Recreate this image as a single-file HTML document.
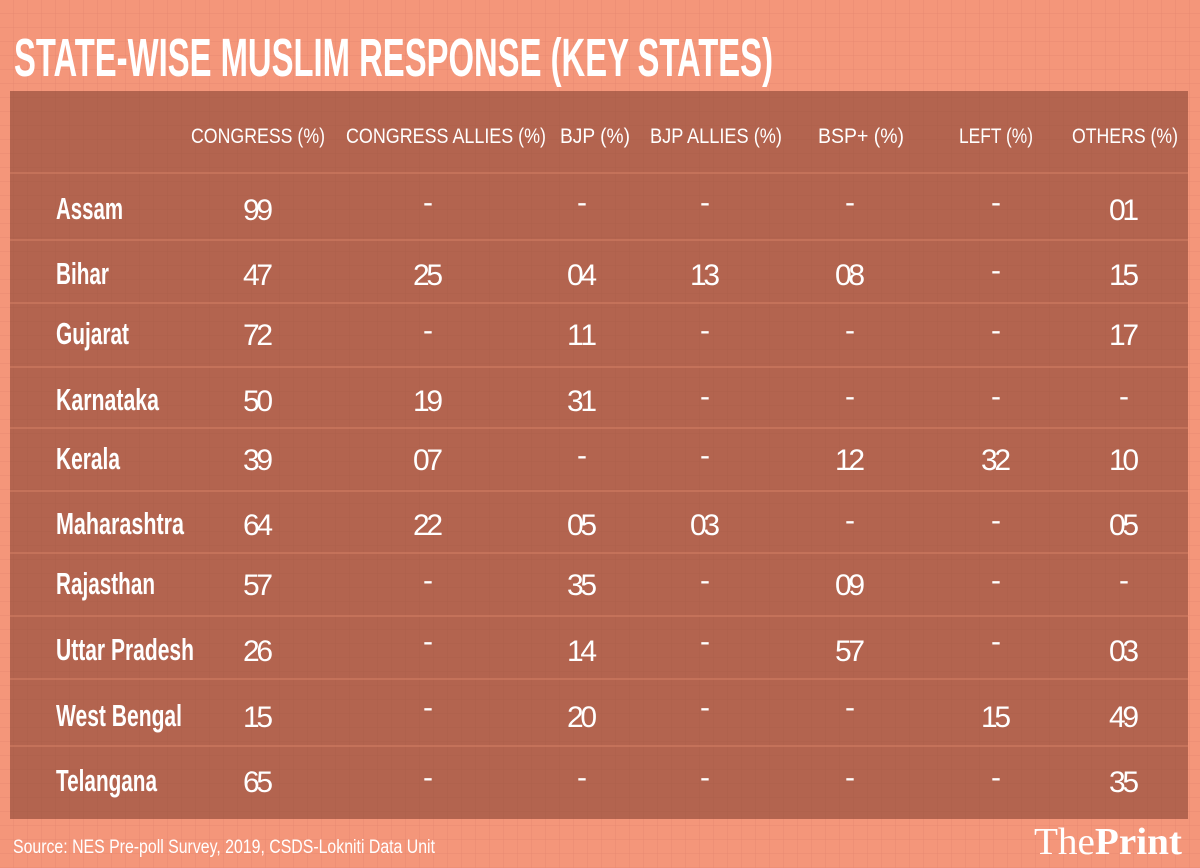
<!DOCTYPE html>
<html><head><meta charset="utf-8"><style>
html,body{margin:0;padding:0;width:1200px;height:868px;overflow:hidden;background:#f4967a}
svg{display:block}
text{font-family:"Liberation Sans Narrow","Liberation Sans",sans-serif;fill:#fff}
</style></head><body>
<svg width="1200" height="868" viewBox="0 0 1200 868">
<defs>
<pattern id="g" width="14" height="14" patternUnits="userSpaceOnUse">
<path d="M14 0V14M0 14H14" stroke="#e0806a" stroke-width="1" fill="none" opacity="0.6"/>
</pattern>
<pattern id="g2" width="14" height="14" patternUnits="userSpaceOnUse">
<path d="M14 0V14M0 14H14" stroke="#a85c48" stroke-width="1" fill="none" opacity="0.5"/>
</pattern>
</defs>
<rect width="1200" height="868" fill="#f4967a"/>
<rect width="1200" height="868" fill="url(#g)"/>
<text x="14" y="76" font-size="54" font-weight="bold" textLength="759" lengthAdjust="spacingAndGlyphs">STATE-WISE MUSLIM RESPONSE (KEY STATES)</text>
<rect x="10" y="91" width="1178" height="728" fill="#b3644f"/>
<rect x="10" y="91" width="1178" height="728" fill="url(#g2)"/>
<g stroke="#cf7a60" stroke-width="1.2">
<line x1="10" y1="173" x2="1188" y2="173"/><line x1="10" y1="240" x2="1188" y2="240"/>
<line x1="10" y1="303" x2="1188" y2="303"/><line x1="10" y1="367" x2="1188" y2="367"/>
<line x1="10" y1="428" x2="1188" y2="428"/><line x1="10" y1="491" x2="1188" y2="491"/>
<line x1="10" y1="553" x2="1188" y2="553"/><line x1="10" y1="616" x2="1188" y2="616"/>
<line x1="10" y1="679" x2="1188" y2="679"/><line x1="10" y1="746" x2="1188" y2="746"/>
</g>
<g font-size="21" text-anchor="middle">
<text x="258" y="143" textLength="134" lengthAdjust="spacingAndGlyphs">CONGRESS (%)</text>
<text x="446" y="143" textLength="200" lengthAdjust="spacingAndGlyphs">CONGRESS ALLIES (%)</text>
<text x="595" y="143" textLength="70" lengthAdjust="spacingAndGlyphs">BJP (%)</text>
<text x="716" y="143" textLength="132" lengthAdjust="spacingAndGlyphs">BJP ALLIES (%)</text>
<text x="861" y="143" textLength="86" lengthAdjust="spacingAndGlyphs">BSP+ (%)</text>
<text x="996" y="143" textLength="74" lengthAdjust="spacingAndGlyphs">LEFT (%)</text>
<text x="1125" y="143" textLength="106" lengthAdjust="spacingAndGlyphs">OTHERS (%)</text>
</g>
<g font-size="31" font-weight="bold">
<text x="56" y="219" textLength="67" lengthAdjust="spacingAndGlyphs">Assam</text>
<text x="56" y="284" textLength="53" lengthAdjust="spacingAndGlyphs">Bihar</text>
<text x="56" y="344" textLength="73" lengthAdjust="spacingAndGlyphs">Gujarat</text>
<text x="56" y="410" textLength="103" lengthAdjust="spacingAndGlyphs">Karnataka</text>
<text x="56" y="469" textLength="64" lengthAdjust="spacingAndGlyphs">Kerala</text>
<text x="56" y="534" textLength="128" lengthAdjust="spacingAndGlyphs">Maharashtra</text>
<text x="56" y="594" textLength="99" lengthAdjust="spacingAndGlyphs">Rajasthan</text>
<text x="56" y="660" textLength="138" lengthAdjust="spacingAndGlyphs">Uttar Pradesh</text>
<text x="56" y="726" textLength="126" lengthAdjust="spacingAndGlyphs">West Bengal</text>
<text x="56" y="791" textLength="101" lengthAdjust="spacingAndGlyphs">Telangana</text>
</g>
<g font-size="30" text-anchor="middle" lengthAdjust="spacingAndGlyphs">
<text x="258" y="220" textLength="30">99</text><text x="428" y="212">-</text><text x="582" y="212">-</text><text x="705" y="212">-</text><text x="850" y="212">-</text><text x="996" y="212">-</text><text x="1124" y="220" textLength="30">01</text>
<text x="258" y="285" textLength="30">47</text><text x="428" y="285" textLength="30">25</text><text x="582" y="285" textLength="30">04</text><text x="705" y="285" textLength="30">13</text><text x="850" y="285" textLength="30">08</text><text x="996" y="280">-</text><text x="1124" y="285" textLength="30">15</text>
<text x="258" y="345" textLength="30">72</text><text x="428" y="340">-</text><text x="582" y="345" textLength="30">11</text><text x="705" y="340">-</text><text x="850" y="340">-</text><text x="996" y="340">-</text><text x="1124" y="345" textLength="30">17</text>
<text x="258" y="411" textLength="30">50</text><text x="428" y="411" textLength="30">19</text><text x="582" y="411" textLength="30">31</text><text x="705" y="406">-</text><text x="850" y="406">-</text><text x="996" y="406">-</text><text x="1124" y="406">-</text>
<text x="258" y="470" textLength="30">39</text><text x="428" y="470" textLength="30">07</text><text x="582" y="465">-</text><text x="705" y="465">-</text><text x="850" y="470" textLength="30">12</text><text x="996" y="470" textLength="30">32</text><text x="1124" y="470" textLength="30">10</text>
<text x="258" y="535" textLength="30">64</text><text x="428" y="535" textLength="30">22</text><text x="582" y="535" textLength="30">05</text><text x="705" y="535" textLength="30">03</text><text x="850" y="530">-</text><text x="996" y="530">-</text><text x="1124" y="535" textLength="30">05</text>
<text x="258" y="595" textLength="30">57</text><text x="428" y="590">-</text><text x="582" y="595" textLength="30">35</text><text x="705" y="590">-</text><text x="850" y="595" textLength="30">09</text><text x="996" y="590">-</text><text x="1124" y="590">-</text>
<text x="258" y="661" textLength="30">26</text><text x="428" y="651">-</text><text x="582" y="661" textLength="30">14</text><text x="705" y="651">-</text><text x="850" y="661" textLength="30">57</text><text x="996" y="651">-</text><text x="1124" y="661" textLength="30">03</text>
<text x="258" y="727" textLength="30">15</text><text x="428" y="717">-</text><text x="582" y="727" textLength="30">20</text><text x="705" y="717">-</text><text x="850" y="717">-</text><text x="996" y="727" textLength="30">15</text><text x="1124" y="727" textLength="30">49</text>
<text x="258" y="792" textLength="30">65</text><text x="428" y="787">-</text><text x="582" y="787">-</text><text x="705" y="787">-</text><text x="850" y="787">-</text><text x="996" y="787">-</text><text x="1124" y="792" textLength="30">35</text>
</g>
<text x="13" y="853" font-size="19" textLength="422" lengthAdjust="spacingAndGlyphs">Source: NES Pre-poll Survey, 2019, CSDS-Lokniti Data Unit</text>
<text x="1182" y="854" font-size="38" text-anchor="end" textLength="148" lengthAdjust="spacingAndGlyphs" style="font-family:'Liberation Serif',serif">The<tspan font-weight="bold">Print</tspan></text>
</svg>
</body></html>
